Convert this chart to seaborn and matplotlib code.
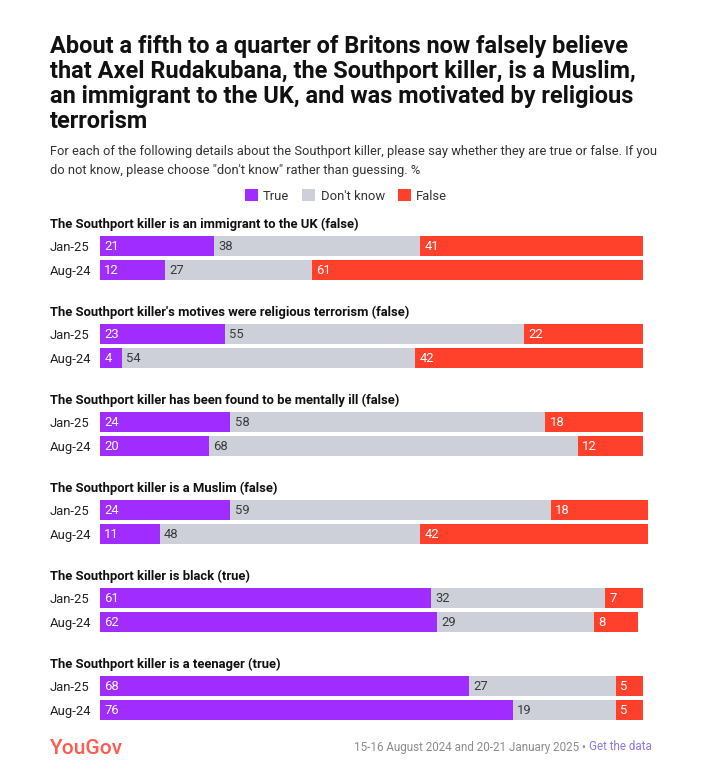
import matplotlib
matplotlib.use("Agg")
import matplotlib.pyplot as plt
from matplotlib.patches import Patch
import seaborn as sns
import pandas as pd
import numpy as np

questions = [
    "The Southport killer is an immigrant to the UK (false)",
    "The Southport killer's motives were religious terrorism (false)",
    "The Southport killer has been found to be mentally ill (false)",
    "The Southport killer is a Muslim (false)",
    "The Southport killer is black (true)",
    "The Southport killer is a teenager (true)",
]
periods = ["Jan-25", "Aug-24"]
true_vals = [[21, 12], [23, 4], [24, 20], [24, 11], [61, 62], [68, 76]]
dk_vals = [[38, 27], [55, 54], [58, 68], [59, 48], [32, 29], [27, 19]]
false_vals = [[41, 61], [22, 42], [18, 12], [18, 42], [7, 8], [5, 5]]
series = ["True", "Don't know", "False"]
colors = ["#a12cff", "#cdd0d9", "#ff412b"]
label_colors = ["white", "#3a3a3a", "white"]

title = ("About a fifth to a quarter of Britons now falsely believe\n"
         "that Axel Rudakubana, the Southport killer, is a Muslim,\n"
         "an immigrant to the UK, and was motivated by religious\n"
         "terrorism")
subtitle = ("For each of the following details about the Southport killer, please say whether they are true or false. If you\n"
            "do not know, please choose \"don't know\" rather than guessing. %")
source = "15-16 August 2024 and 20-21 January 2025 \u2022 "
link = "Get the data"

sns.set_theme(style="white")
plt.rcParams["font.family"] = ["Roboto", "DejaVu Sans"]

W, H = 713, 781
fig = plt.figure(figsize=(W / 100, H / 100), dpi=100)

def fx(px):
    return px / W

def fy(py):
    return 1 - py / H

fig.text(fx(50), fy(35), title, ha="left", va="top", fontsize=16.9, fontweight="bold",
         color="#111111", linespacing=1.11)
fig.text(fx(50), fy(145), subtitle, ha="left", va="top", fontsize=9.3, color="#333333",
         linespacing=1.56)

handles = [Patch(facecolor=c, edgecolor="none", label=s) for s, c in zip(series, colors)]
fig.legend(handles=handles, loc="center", bbox_to_anchor=(fx(346), fy(196)), ncol=3,
           frameon=False, fontsize=9.4, handlelength=1.0, handleheight=1.0,
           handletextpad=0.4, columnspacing=1.0, labelcolor="#333333")

bar_top0 = 236
step = 24
group_gap = 88
x0, x100 = 100, 643
bw = 20 / 24

for gi, q in enumerate(questions):
    top = bar_top0 + gi * group_gap
    pad = (1 - bw) / 2
    ymin = -0.5 + pad
    ymax = 1.5 - pad
    height_px = (ymax - ymin) * step
    ax = fig.add_axes([fx(x0), fy(top + height_px), (x100 - x0) / W, height_px / H])
    df = pd.DataFrame({
        "period": periods,
        "True": true_vals[gi],
        "Don't know": dk_vals[gi],
        "False": false_vals[gi],
    })
    cum = df[series].cumsum(axis=1)
    for si in range(len(series) - 1, -1, -1):
        sns.barplot(x=cum[series[si]], y=df["period"], order=periods, color=colors[si],
                    orient="h", width=bw, ax=ax, saturation=1, linewidth=0)
    for r in range(2):
        left = 0
        for si, s in enumerate(series):
            v = df[s].iloc[r]
            ax.text(left + 0.8, r, f"{v}", ha="left", va="center", fontsize=9.4,
                    color=label_colors[si])
            left += v
    ax.set_xlim(0, 100)
    ax.set_ylim(ymax, ymin)
    ax.set_xlabel("")
    ax.set_ylabel("")
    ax.set_xticks([])
    ax.tick_params(axis="y", length=0, pad=36, labelsize=9.4, labelcolor="#222222")
    for lab in ax.get_yticklabels():
        lab.set_ha("left")
    for sp in ax.spines.values():
        sp.set_visible(False)
    ax.patch.set_alpha(0)
    for p in ax.patches:
        p.set_clip_on(False)
    fig.text(fx(50), fy(top - 12), q, ha="left", va="center", fontsize=9.4,
             fontweight="bold", color="#111111")

fig.text(fx(50), fy(748), "YouGov", ha="left", va="center", fontsize=15,
         fontweight="medium", color="#ff5b4f")
t_link = fig.text(fx(652), fy(747), link, ha="right", va="center", fontsize=8.4,
                  color="#8a7be6")
fig.canvas.draw()
bb = t_link.get_window_extent(renderer=fig.canvas.get_renderer())
fig.text(bb.x0 / W, fy(747), source, ha="right", va="center", fontsize=8.4,
         color="#8c8c8c")

fig.savefig("out.png", dpi=100)
